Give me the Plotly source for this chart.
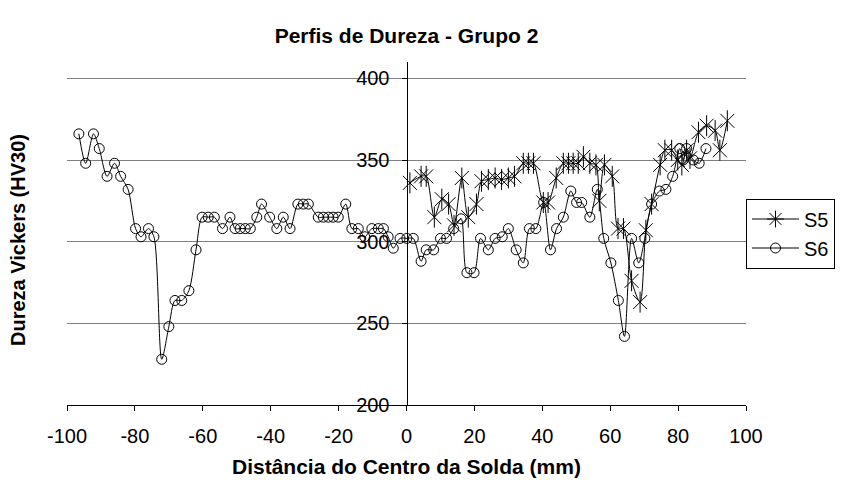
import plotly.graph_objects as go

# Hardness profiles, distance from weld centre (mm) vs. Vickers hardness (HV30)
s5_x = [1.0, 4.3, 5.8, 8.2, 10.4, 12.4, 14.0, 16.3, 18.2, 20.6,
        22.1, 24.1, 26.1, 28.0, 30.0, 31.8, 34.4, 35.9, 37.4, 40.3,
        41.7, 44.1, 46.2, 47.7, 49.1, 50.6, 52.1, 54.0, 55.8, 56.8,
        58.3, 60.6, 62.3, 63.9, 66.3, 68.8, 70.5, 72.2, 74.7, 76.1,
        78.1, 79.9, 81.1, 82.5, 83.5, 86.0, 88.4, 90.9, 92.3, 94.5]
s5_y = [336, 340, 340, 315, 326, 323, 310, 339, 315, 323,
        337, 338, 339, 338, 339, 340, 348, 348, 348, 324,
        324, 339, 348, 348, 348, 348, 352, 348, 347, 325,
        347, 340, 308, 308, 276, 263, 307, 323, 347, 356,
        356, 350, 347, 356, 351, 367, 371, 368, 356, 374]

s6_x = [-96.5, -94.5, -92.2, -90.5, -88.2, -86.0, -84.2, -82.0, -79.8, -78.2,
        -76.0, -74.4, -72.1, -70.0, -68.2, -66.2, -64.1, -62.0, -60.2, -58.4,
        -56.6, -54.2, -52.0, -50.5, -49.0, -47.5, -46.0, -44.1, -42.7, -40.3,
        -38.2, -36.3, -34.3, -32.0, -30.4, -28.9, -26.0, -24.5, -23.0, -21.6,
        -20.1, -17.9, -16.1, -14.2, -12.3, -10.2, -8.3, -6.8, -5.4, -3.9,
        -1.9, 0.1, 2.0, 4.3, 5.8, 8.0, 10.0, 11.8, 13.9, 16.1,
        17.8, 19.9, 21.8, 24.1, 26.1, 28.2, 30.0, 32.3, 34.4, 36.2,
        38.1, 40.4, 42.4, 44.2, 46.2, 48.4, 50.1, 51.6, 54.0, 56.2,
        58.1, 60.2, 62.4, 64.2, 66.3, 68.4, 70.2, 72.2, 74.5, 76.4,
        78.4, 80.5, 81.5, 82.5, 84.5, 86.2, 88.2]
s6_y = [366, 348, 366, 357, 340, 348, 340, 332, 308, 303,
        308, 303, 228, 248, 264, 264, 270, 295, 315, 315,
        315, 308, 315, 308, 308, 308, 308, 315, 323, 315,
        308, 315, 308, 323, 323, 323, 315, 315, 315, 315,
        315, 323, 308, 308, 303, 308, 308, 308, 303, 296,
        302, 302, 302, 288, 295, 295, 302, 302, 308, 314,
        281, 281, 302, 295, 302, 303, 308, 295, 287, 308,
        308, 324, 295, 308, 315, 331, 324, 324, 315, 332,
        302, 287, 264, 242, 302, 287, 302, 323, 331, 332,
        340, 357, 350, 357, 350, 348, 357]

x_ticks = [-100, -80, -60, -40, -20, 0, 20, 40, 60, 80, 100]
y_ticks = [200, 250, 300, 350, 400]

FONT = "Liberation Sans, Arial, sans-serif"
INK = "#000000"
line_style = dict(color=INK, width=1, shape="spline", smoothing=0.8)

fig = go.Figure()

# legend entry for S5 (asterisk glyph on a line)
fig.add_trace(go.Scatter(
    x=[None], y=[None], mode="lines+markers", name="S5",
    line=dict(color=INK, width=1),
    marker=dict(symbol="asterisk-open", size=14, color=INK, line=dict(color=INK, width=1)),
))

# S5: smoothed line with diagonal arms of the asterisk marker
fig.add_trace(go.Scatter(
    x=s5_x, y=s5_y, mode="lines+markers", name="S5", showlegend=False,
    line=line_style,
    marker=dict(symbol="x-thin-open", size=14, color=INK, line=dict(color=INK, width=1)),
))
# S5: vertical arm of the asterisk marker
fig.add_trace(go.Scatter(
    x=s5_x, y=s5_y, mode="markers", name="S5", showlegend=False,
    marker=dict(symbol="line-ns-open", size=15, color=INK, line=dict(color=INK, width=1)),
))

# S6: smoothed line with open circles
fig.add_trace(go.Scatter(
    x=s6_x, y=s6_y, mode="lines+markers", name="S6",
    line=line_style,
    marker=dict(symbol="circle-open", size=10, color=INK, line=dict(color=INK, width=1)),
))

fig.update_layout(
    width=841, height=488,
    margin=dict(l=67, r=95, t=62, b=83, autoexpand=False),
    paper_bgcolor="white", plot_bgcolor="white",
    font=dict(family=FONT, size=20, color=INK),
    title=dict(text="<b>Perfis de Dureza - Grupo 2</b>", x=0.5, xref="paper",
               y=1 - 36 / 488, yref="container", yanchor="middle",
               font=dict(family=FONT, size=21, color=INK)),
    xaxis=dict(range=[-100, 100], tickvals=x_ticks, ticktext=[str(v) for v in x_ticks],
               showgrid=False, zeroline=False, showline=True, linecolor=INK, linewidth=1,
               ticks="outside", ticklen=5, tickcolor=INK, tickfont=dict(size=20),
               ticklabelstandoff=8),
    yaxis=dict(range=[200, 410], tickvals=y_ticks, ticktext=[str(v) for v in y_ticks],
               anchor="free", position=0.5, showgrid=True, gridcolor="#808080", gridwidth=1,
               zeroline=False, showline=True, linecolor=INK, linewidth=1,
               ticks="outside", ticklen=5, tickcolor=INK, tickfont=dict(size=20),
               ticklabelstandoff=8),
    legend=dict(x=1.0, xanchor="left", y=0.5, yanchor="middle",
                bordercolor=INK, borderwidth=1, bgcolor="white",
                itemwidth=47,
                font=dict(family=FONT, size=20, color=INK), traceorder="normal"),
    showlegend=True,
    annotations=[
        dict(text="<b>Dureza Vickers (HV30)</b>", xref="paper", yref="paper",
             x=(18 - 67) / 679, y=(405 - 240) / 343, xanchor="center", yanchor="middle",
             textangle=-90, showarrow=False, font=dict(family=FONT, size=20, color=INK)),
        dict(text="<b>Distância do Centro da Solda (mm)</b>", xref="paper", yref="paper",
             x=0.5, y=(405 - 466) / 343, xanchor="center", yanchor="middle",
             showarrow=False, font=dict(family=FONT, size=21, color=INK)),
    ],
)

fig.write_html("out.html")
